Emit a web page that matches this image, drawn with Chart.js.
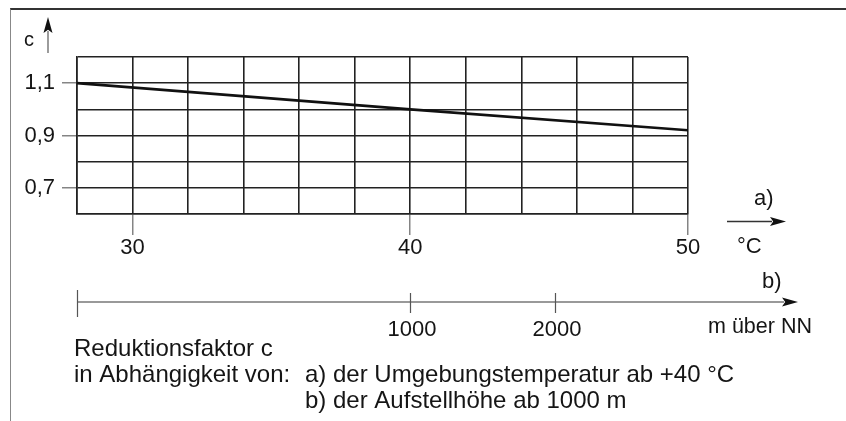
<!DOCTYPE html>
<html>
<head>
<meta charset="utf-8">
<script src="https://cdn.jsdelivr.net/npm/chart.js@4/dist/chart.umd.min.js"></script>
<style>
  html, body { margin: 0; padding: 0; background: #fff; }
  #wrap { position: relative; width: 846px; height: 421px; }
  #frame { position: absolute; left: 10px; top: 8px; right: 0; bottom: 0;
           border-top: 2px solid #333; border-left: 1.5px solid #888; pointer-events: none; }
  canvas { position: absolute; left: 0; top: 0; }
</style>
</head>
<body>
<div id="wrap">
  <canvas id="factorChart" width="846" height="421"></canvas>
  <div id="frame"></div>
</div>
<script>
// reduction factor c over ambient temperature (°C)
var tempC = [28, 40, 50];
var factorC = [1.1, 1.0, 0.92];

// labelled ticks
var tempTicks = [30, 40, 50];
var factorTicks = [1.1, 0.9, 0.7];
var altitudeTicks = [1000, 2000];

var INK = '#151515';
var FONT = "'Liberation Sans', Arial, Helvetica, sans-serif";

function fmtFactor(v) {
  return v.toFixed(1).replace('.', ',');
}
function isFactorTick(v) {
  return factorTicks.some(function (t) { return Math.round(t * 10) === Math.round(v * 10); });
}

// arrows, altitude axis and the caption underneath
var decorations = {
  id: 'decorations',
  afterDraw: function (chart) {
    var ctx = chart.ctx;
    var alt = chart.scales.alt;

    function arrow(x1, y1, x2, y2, color, width) {
      var ang = Math.atan2(y2 - y1, x2 - x1);
      var len = 16, half = 4.5;
      ctx.strokeStyle = color;
      ctx.lineWidth = width;
      ctx.beginPath();
      ctx.moveTo(x1, y1);
      ctx.lineTo(x2 - Math.cos(ang) * (len - 2), y2 - Math.sin(ang) * (len - 2));
      ctx.stroke();
      ctx.fillStyle = '#111';
      ctx.beginPath();
      ctx.moveTo(x2, y2);
      ctx.lineTo(x2 - Math.cos(ang) * len - Math.sin(ang) * half, y2 - Math.sin(ang) * len + Math.cos(ang) * half);
      ctx.lineTo(x2 - Math.cos(ang) * len * 0.8, y2 - Math.sin(ang) * len * 0.8);
      ctx.lineTo(x2 - Math.cos(ang) * len + Math.sin(ang) * half, y2 - Math.sin(ang) * len - Math.cos(ang) * half);
      ctx.closePath();
      ctx.fill();
    }

    function text(str, x, y, size, align) {
      ctx.font = size + 'px ' + FONT;
      ctx.fillStyle = INK;
      ctx.textAlign = align || 'left';
      ctx.textBaseline = 'alphabetic';
      ctx.fillText(str, x, y);
    }

    ctx.save();

    // y axis name
    arrow(48, 53, 48, 17, '#666', 1.3);
    text('c', 24, 46, 20);

    // temperature axis a)
    arrow(727, 221.5, 786, 221.5, '#333', 1.3);
    text('a)', 754, 205, 22);
    text('\u00b0C', 737, 253, 22);

    // altitude axis b)
    var y = 302;
    arrow(alt.left, y, 798, y, '#777', 1.6);
    ctx.strokeStyle = '#555';
    ctx.lineWidth = 1.2;
    ctx.beginPath();
    ctx.moveTo(alt.left + 0.5, y - 12);
    ctx.lineTo(alt.left + 0.5, y + 15);
    altitudeTicks.forEach(function (v) {
      var x = Math.round(alt.getPixelForValue(v)) + 0.5;
      ctx.moveTo(x, y - 9);
      ctx.lineTo(x, y + 11);
    });
    ctx.stroke();
    altitudeTicks.forEach(function (v) {
      text(String(v), alt.getPixelForValue(v) + 2, 336, 22, 'center');
    });
    text('b)', 762, 288, 22);
    text('m \u00fcber NN', 708, 333, 21.5);

    // caption
    text('Reduktionsfaktor c', 74, 356, 24);
    text('in Abh\u00e4ngigkeit von:', 74, 382, 24);
    text('a) der Umgebungstemperatur ab +40 \u00b0C', 305, 382, 24);
    text('b) der Aufstellh\u00f6he ab 1000 m', 305, 408, 24);

    ctx.restore();
  }
};

var chart = new Chart(document.getElementById('factorChart'), {
  type: 'line',
  data: {
    datasets: [{
      data: tempC.map(function (t, i) { return { x: t, y: factorC[i] }; }),
      xAxisID: 'x',
      yAxisID: 'y',
      borderColor: '#111',
      borderWidth: 2.6,
      pointRadius: 0,
      tension: 0,
      fill: false
    }]
  },
  options: {
    responsive: false,
    animation: false,
    events: [],
    layout: { padding: { left: 0, top: 57, right: 158, bottom: 157 } },
    plugins: { legend: { display: false }, tooltip: { enabled: false } },
    scales: {
      x: {
        type: 'linear',
        min: 28,
        max: 50,
        afterFit: function (s) { s.height = 50; },
        ticks: {
          stepSize: 2,
          autoSkip: false,
          maxRotation: 0,
          padding: 0,
          color: INK,
          font: { family: FONT, size: 22 },
          callback: function (v) { return tempTicks.indexOf(v) >= 0 ? String(v) : ''; }
        },
        grid: {
          color: '#222',
          lineWidth: 1.6,
          tickLength: 21,
          tickWidth: 1.2,
          tickColor: function (c) { return c.tick && tempTicks.indexOf(c.tick.value) >= 0 ? '#666' : 'rgba(0,0,0,0)'; }
        },
        border: { color: '#222', width: 1.6 }
      },
      alt: {
        type: 'linear',
        position: 'bottom',
        display: false,
        min: -1297,
        max: 2917
      },
      y: {
        type: 'linear',
        min: 0.6,
        max: 1.2,
        afterFit: function (s) { s.width = 77; },
        ticks: {
          stepSize: 0.1,
          autoSkip: false,
          padding: 7,
          color: INK,
          font: { family: FONT, size: 22 },
          callback: function (v) { return isFactorTick(v) ? fmtFactor(v) : ''; }
        },
        grid: {
          color: '#222',
          lineWidth: 1.6,
          tickLength: 15,
          tickWidth: 1.2,
          tickColor: function (c) { return c.tick && isFactorTick(c.tick.value) ? '#666' : 'rgba(0,0,0,0)'; }
        },
        border: { color: '#222', width: 1.6 }
      }
    }
  },
  plugins: [decorations]
});
</script>
</body>
</html>
